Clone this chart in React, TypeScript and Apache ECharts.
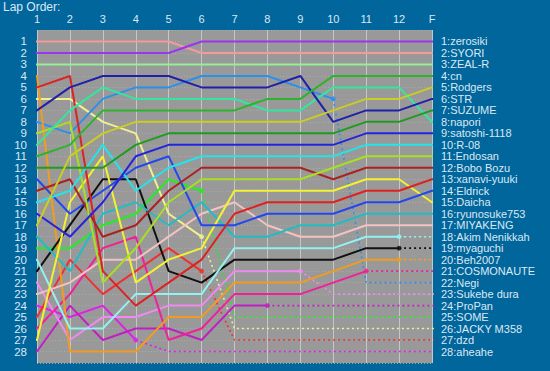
import React, { useEffect, useRef } from "react";
import * as echarts from "echarts";

const lapLabels = ["1", "2", "3", "4", "5", "6", "7", "8", "9", "10", "11", "12", "F"];

const drivers = [
  "zerosiki", "SYORI", "ZEAL-R", "cn", "Rodgers", "STR", "SUZUME", "napori",
  "satoshi-1118", "R-08", "Endosan", "Bobo Bozu", "xanavi-yuuki", "Eldrick",
  "Daicha", "ryunosuke753", "MIYAKENG", "Akim Nenikkah", "myaguchi", "Beh2007",
  "COSMONAUTE", "Negi", "Sukebe dura", "ProPan", "SOME", "JACKY M358", "dzd", "aheahe",
];

const colors = [
  "#9a35f0", "#f49a9a", "#94f094", "#2cb42c", "#cccc22", "#2020a8", "#1f9c1f", "#30e8a0",
  "#2424dc", "#22e4ea", "#a8e020", "#aa2222", "#dd2222", "#2448ee",
  "#f2f230", "#22bcc4", "#f4c2c2", "#92f2f2", "#111111", "#f09c20",
  "#f0209a", "#2a90ee", "#f08af0", "#c020c0", "#22ee22", "#f0f090", "#f03030", "#e020e8",
];

// Running order per lap (laps 1..12, then F). Shorter lists = retired / not classified at F.
const zerosiki = [2, 2, 2, 2, 2, 1, 1, 1, 1, 1, 1, 1, 1];
const syori = [1, 1, 1, 1, 1, 2, 2, 2, 2, 2, 2, 2, 2];
const zealR = [3, 3, 3, 3, 3, 3, 3, 3, 3, 3, 3, 3, 3];
const cn = [11, 10, 7, 7, 7, 7, 7, 6, 6, 4, 4, 4, 4];
const rodgers = [17, 11, 9, 8, 8, 8, 8, 8, 8, 7, 6, 6, 5];
const str = [7, 5, 4, 4, 4, 5, 5, 5, 4, 8, 7, 7, 6];
const suzume = [12, 12, 12, 10, 9, 9, 9, 9, 9, 9, 8, 8, 7];
const napori = [10, 7, 5, 6, 6, 6, 6, 7, 7, 5, 5, 5, 8];
const satoshi = [16, 18, 15, 11, 10, 10, 10, 10, 10, 10, 9, 9, 9];
const r08 = [15, 14, 10, 14, 12, 11, 11, 11, 11, 11, 10, 10, 10];
const endosan = [9, 8, 22, 19, 15, 13, 13, 13, 13, 12, 11, 11, 11];
const bobo = [14, 13, 18, 17, 14, 12, 12, 12, 12, 13, 12, 12, 12];
const xanavi = [5, 4, 21, 24, 22, 20, 16, 15, 15, 15, 14, 14, 13];
const eldrick = [13, 16, 14, 12, 11, 17, 17, 16, 16, 16, 15, 15, 14];
const daicha = [27, 15, 11, 22, 20, 19, 14, 14, 14, 14, 13, 13, 15];
const ryunosuke = [18, 21, 16, 15, 17, 15, 18, 18, 17, 17, 16, 16, 16];
const miyakeng = [23, 22, 20, 20, 18, 16, 15, 17, 18, 18, 17, 17, 17];
const akim = [20, 26, 26, 23, 23, 23, 19, 19, 19, 19, 18, 18];
const myaguchi = [21, 17, 13, 13, 21, 22, 20, 20, 20, 20, 19, 19];
const beh = [4, 28, 28, 28, 25, 25, 22, 22, 22, 21, 20, 20];
const cosmo = [26, 23, 19, 18, 27, 26, 23, 23, 23, 22, 21];
const negi = [8, 9, 6, 5, 5, 4, 4, 4, 5, 6];
const sukebe = [22, 27, 25, 25, 24, 24, 21, 21, 21];
const propan = [28, 24, 27, 26, 26, 27, 24, 24];
const some = [19, 19, 17, 16, 13, 14];
const jacky = [6, 6, 8, 9, 16, 18];
const dzd = [25, 20, 23, 21, 19, 21];
const aheahe = [24, 25, 24, 27];

const orders = [
  zerosiki, syori, zealR, cn, rodgers, str, suzume, napori, satoshi, r08, endosan, bobo,
  xanavi, eldrick, daicha, ryunosuke, miyakeng, akim, myaguchi, beh, cosmo, negi, sukebe,
  propan, some, jacky, dzd, aheahe,
];

const FONT = "'Liberation Sans', Arial, sans-serif";
const TEXT = "#dce8f4";

export default function App() {
  const ref = useRef<HTMLDivElement>(null);

  useEffect(() => {
    if (!ref.current) return;
    const chart = echarts.init(ref.current, undefined, { renderer: "svg" });
    const nLaps = lapLabels.length;
    const leftStub = 1 - 7 / 32.9;
    const rightStub = nLaps + 8 / 32.9;

    const series: any[] = [];
    const dots: any[] = [];
    orders.forEach((pos, i) => {
      const finalRow = i + 1;
      const color = colors[i];
      const n = pos.length;
      const solid: number[][] = [[leftStub, pos[0]]];
      pos.forEach((p, k) => solid.push([k + 1, p]));
      if (n === nLaps) solid.push([rightStub, pos[n - 1]]);
      series.push({
        type: "line",
        name: drivers[i],
        data: solid,
        symbol: "none",
        clip: false,
        silent: true,
        lineStyle: { color, width: 2 },
        z: 10 + (28 - i),
      });
      if (n < nLaps) {
        const dashed: number[][] = [[n, pos[n - 1]], [n + 1, finalRow]];
        if (n + 1 < nLaps) dashed.push([nLaps, finalRow]);
        dashed.push([rightStub, finalRow]);
        series.push({
          type: "line",
          data: dashed,
          symbol: "none",
          clip: false,
          silent: true,
          lineStyle: { color, width: 1.6, type: [2, 3] },
          z: 5,
        });
        dots.push({ value: [n, pos[n - 1]], itemStyle: { color } });
      }
    });
    series.push({
      type: "scatter",
      data: dots,
      symbol: "circle",
      symbolSize: 5,
      silent: true,
      z: 50,
    });

    chart.setOption({
      animation: false,
      backgroundColor: "#00669c",
      title: {
        text: "Lap Order:",
        left: 3,
        top: 1,
        padding: 0,
        textStyle: {
          color: TEXT,
          fontSize: 12,
          lineHeight: 11,
          fontWeight: "normal",
          fontFamily: FONT,
        },
      },
      grid: {
        left: 37,
        top: 30,
        right: 118,
        bottom: 8,
        show: true,
        backgroundColor: "#999999",
        borderWidth: 0,
      },
      xAxis: {
        type: "value",
        position: "top",
        min: 1,
        max: nLaps,
        interval: 1,
        axisLine: { show: false },
        axisTick: { show: false },
        axisLabel: {
          color: TEXT,
          fontSize: 11,
          lineHeight: 11,
          fontFamily: FONT,
          margin: 6,
          formatter: (v: number) => lapLabels[v - 1] ?? "",
        },
        splitLine: { show: true, lineStyle: { color: "#c6c6c6", width: 1 } },
      },
      yAxis: [
        {
          type: "value",
          inverse: true,
          min: 0,
          max: 29,
          interval: 1,
          axisLine: { show: false },
          axisTick: { show: false },
          axisLabel: {
            color: TEXT,
            fontSize: 11.5,
            lineHeight: 11,
            fontFamily: FONT,
            margin: 10,
            formatter: (v: number) => (v >= 1 && v <= drivers.length ? String(v) : ""),
          },
          splitLine: { show: true, lineStyle: { color: "#ababab", width: 1, type: [1, 2] } },
        },
        {
          type: "value",
          inverse: true,
          position: "right",
          min: 0,
          max: 29,
          interval: 1,
          axisLine: { show: false },
          axisTick: { show: false },
          axisLabel: {
            color: TEXT,
            fontSize: 11,
            lineHeight: 11,
            fontFamily: FONT,
            margin: 9,
            align: "left",
            formatter: (v: number) =>
              v >= 1 && v <= drivers.length ? `${v}:${drivers[v - 1]}` : "",
          },
          splitLine: { show: false },
        },
      ],
      series,
    });

    return () => chart.dispose();
  }, []);

  return (
    <div
      ref={ref}
      style={{ position: "fixed", left: 0, top: 0, width: 550, height: 371 }}
    />
  );
}
